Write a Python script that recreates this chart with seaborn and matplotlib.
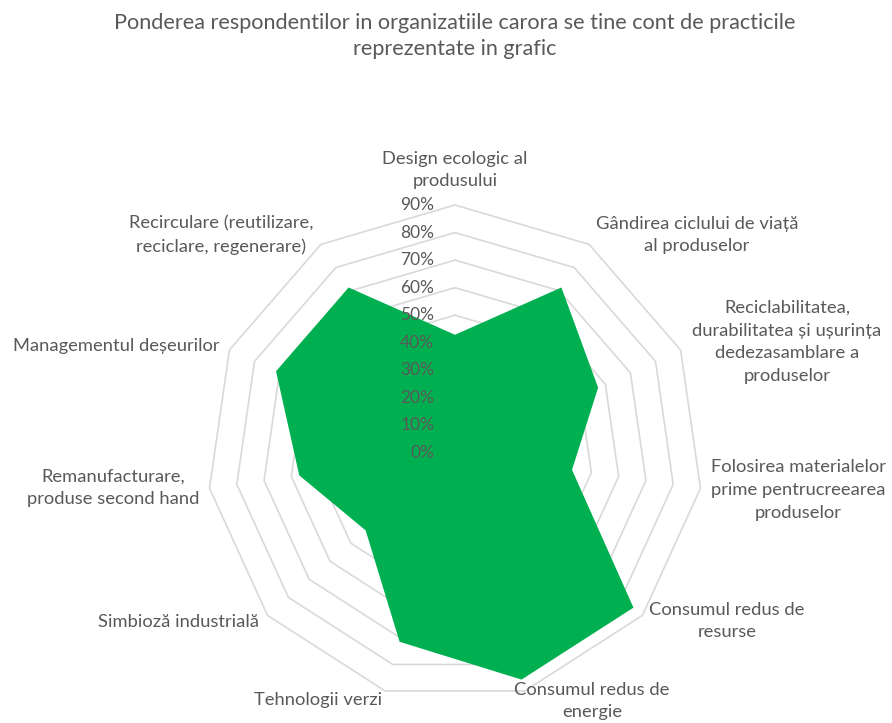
import numpy as np
import matplotlib
matplotlib.use("Agg")
import matplotlib.pyplot as plt
import seaborn as sns

categories = [
    "Design ecologic al\nprodusului",
    "Gândirea ciclului de viață\nal produselor",
    "Reciclabilitatea,\ndurabilitatea și ușurința\ndedezasamblare a\nproduselor",
    "Folosirea materialelor\nprime pentrucreearea\nproduselor",
    "Consumul redus de\nresurse",
    "Consumul redus de\nenergie",
    "Tehnologii verzi",
    "Simbioză industrială",
    "Remanufacturare,\nproduse second hand",
    "Managementul deșeurilor",
    "Recirculare (reutilizare,\nreciclare, regenerare)",
]
values = [42.9, 71.4, 57.1, 42.9, 85.7, 85.7, 71.4, 42.9, 57.1, 71.4, 71.4]
levels = [0, 10, 20, 30, 40, 50, 60, 70, 80, 90]
level_labels = [f"{v}%" for v in levels]
title = "Ponderea respondentilor in organizatiile carora se tine cont de practicile\nreprezentate in grafic"

# label positions in pixels (x from left, y from top)
label_px = [(455, 170), (697, 235), (787, 342), (798, 490), (727, 621),
            (592, 701), (318, 700), (179, 622), (113, 488), (116, 346), (221, 235)]

sns.set_theme(style="white")
plt.rcParams['font.family'] = ['Lato', 'DejaVu Sans']

W, H = 892, 723
fig = plt.figure(figsize=(W / 100, H / 100), dpi=100)
cx, cy, R = 455, 453, 248
ax = fig.add_axes([(cx - R) / W, (H - cy - R) / H, 2 * R / W, 2 * R / H], projection='polar')
ax.set_theta_zero_location('N')
ax.set_theta_direction(-1)
ax.set_ylim(0, 90)

n = len(categories)
angles = np.linspace(0, 2 * np.pi, n, endpoint=False)
ang_closed = np.concatenate([angles, angles[:1]])

grid_color = '#D9D9D9'
for lv in levels[1:]:
    ax.plot(ang_closed, [lv] * (n + 1), color=grid_color, lw=1.2, clip_on=False, zorder=1)

vals_closed = np.concatenate([values, values[:1]])
ax.fill(ang_closed, vals_closed, color='#00B050', lw=0, zorder=2)

ax.grid(False)
ax.set_xticks([])
ax.set_yticks([])
ax.spines['polar'].set_visible(False)
ax.set_facecolor('none')

txt_color = '#595959'
for lv, lab in zip(levels, level_labels):
    ax.annotate(lab, xy=(0, lv), xytext=(-15, 0), textcoords='offset points',
                ha='right', va='center', fontsize=12.5, color=txt_color, zorder=3,
                annotation_clip=False)

for lab, (x, y) in zip(categories, label_px):
    fig.text(x / W, 1 - y / H, lab, ha='center', va='center', ma='center',
             fontsize=13.2, color=txt_color, linespacing=1.52)

fig.text(455 / W, 1 - 36 / H, title, ha='center', va='center', ma='center',
         fontsize=15.6, color=txt_color, linespacing=1.4)

fig.savefig('out.png', dpi=100, facecolor='white')
